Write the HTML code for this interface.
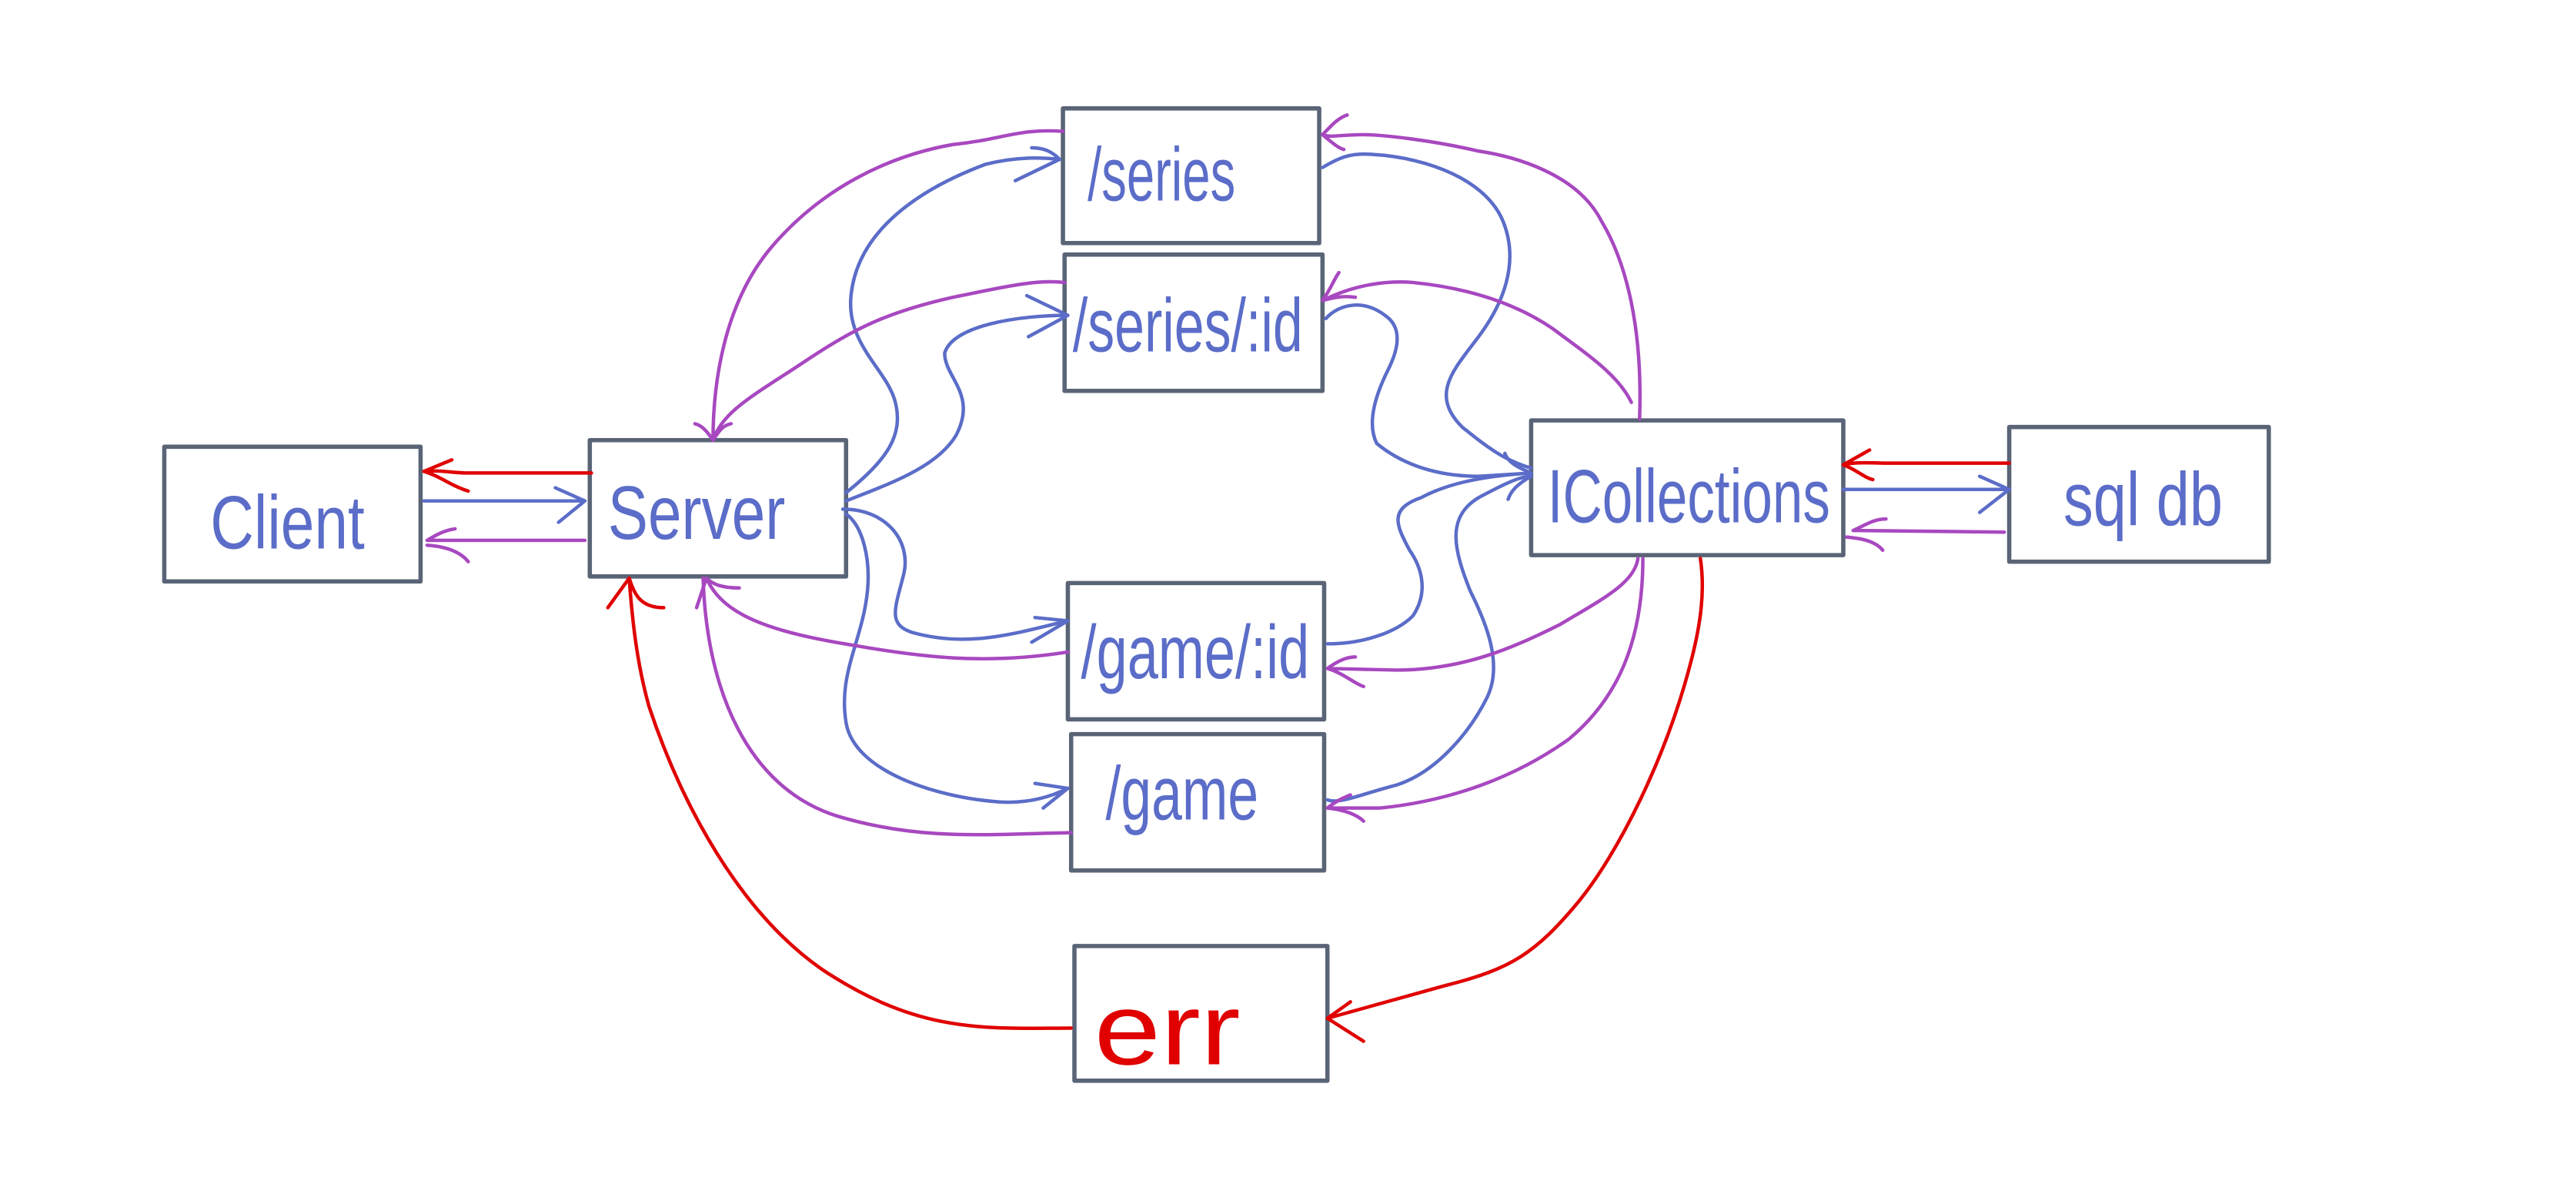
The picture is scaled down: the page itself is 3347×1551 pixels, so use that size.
<!DOCTYPE html>
<html><head><meta charset="utf-8"><style>
html,body{margin:0;padding:0;background:#fff;}
svg{display:block;}
text{font-family:"Liberation Sans",sans-serif;}
</style></head><body>
<svg width="3347" height="1551" viewBox="0 0 1568 727" preserveAspectRatio="none" xmlns="http://www.w3.org/2000/svg">
<g fill="#fff" stroke="#5a6477" stroke-width="2.6" stroke-linejoin="round">
<rect x="100" y="272" width="156" height="82"/>
<rect x="359" y="268" width="156" height="83"/>
<rect x="647" y="66" width="156" height="82"/>
<rect x="648" y="155" width="157" height="83"/>
<rect x="650" y="355" width="156" height="83"/>
<rect x="652" y="447" width="154" height="83"/>
<rect x="654" y="576" width="154" height="82"/>
<rect x="932" y="256" width="190" height="82"/>
<rect x="1223" y="260" width="158" height="82"/>
</g>
<g font-size="46" fill="#5b6dc8">
<text x="128" y="334" textLength="94" lengthAdjust="spacingAndGlyphs">Client</text>
<text x="370" y="328" textLength="108" lengthAdjust="spacingAndGlyphs">Server</text>
<text x="662" y="122" textLength="90" lengthAdjust="spacingAndGlyphs">/series</text>
<text x="653" y="214" textLength="140" lengthAdjust="spacingAndGlyphs">/series/:id</text>
<text x="658" y="413" textLength="139" lengthAdjust="spacingAndGlyphs">/game/:id</text>
<text x="673" y="499" textLength="93" lengthAdjust="spacingAndGlyphs">/game</text>
<text x="942" y="318" textLength="172" lengthAdjust="spacingAndGlyphs">ICollections</text>
<text x="1256" y="320" textLength="97" lengthAdjust="spacingAndGlyphs">sql db</text>
<text x="666" y="648" font-size="62" fill="#e00000" textLength="89" lengthAdjust="spacingAndGlyphs">err</text>
</g>
<g fill="none" stroke-width="2.1" stroke-linecap="round" stroke-linejoin="round">
<g stroke="#e00000">
<path d="M360,288 L285,288 C275,288 268,286 258,287 M258,287 L275,280 M258,287 C268,290 275,296 285,299"/>
<path d="M652,626 C600,626 560,630 500,590 C450,555 415,490 395,430 C388,405 385,380 383,352 M383,352 L370,370 M383,352 C386,362 390,370 404,370"/>
<path d="M1035,340 C1038,360 1035,380 1030,400 C1015,460 985,520 960,550 C935,580 920,590 880,600 L808,620 M808,620 L822,610 M808,620 L830,634"/>
<path d="M1223,282 L1150,282 C1140,282 1130,281 1122,283 M1122,283 L1138,274 M1122,283 C1130,286 1135,291 1140,292"/>
</g>
<g stroke="#5b6dc8">
<path d="M258,305 L356,305 M356,305 L338,297 M356,305 L340,318"/>
<path d="M1122,298 L1223,298 M1223,298 L1205,290 M1223,298 L1205,312"/>
<path d="M515,300 C540,280 550,265 545,245 C540,225 515,210 518,180 C522,140 560,115 600,100 C620,95 635,96 645,97 M645,97 C640,92 635,90 628,90 M645,97 L618,110"/>
<path d="M515,305 C540,295 570,285 582,265 C595,240 575,230 575,215 C580,198 620,192 650,192 M650,192 L625,180 M650,192 L626,205"/>
<path d="M513,310 C540,310 555,330 550,350 C545,370 540,380 555,385 C590,395 620,385 650,378 M650,378 L630,376 M650,378 L628,391"/>
<path d="M515,313 C525,320 530,340 528,360 C525,390 510,410 515,440 C520,470 570,485 605,488 C625,490 640,485 650,480 M650,480 L630,477 M650,480 L635,492"/>
<path d="M805,102 C815,96 822,93 835,94 C870,96 905,110 915,135 C925,160 915,185 900,205 C885,225 870,240 890,260 C905,272 915,280 932,285"/>
<path d="M807,194 C815,185 830,182 843,192 C855,200 850,215 845,225 C835,245 833,260 838,270 C850,280 870,290 900,290 L932,288 M932,288 C925,285 918,282 916,276"/>
<path d="M808,392 C830,392 850,385 860,375 C870,360 865,345 858,335 C850,320 845,310 865,303 C880,295 900,290 932,288"/>
<path d="M808,487 C815,490 830,483 850,478 C875,470 895,445 905,425 C915,405 905,380 895,360 C885,335 880,315 900,303 C915,295 925,290 932,290 M932,290 C925,294 920,298 918,304"/>
</g>
<g stroke="#a848c0">
<path d="M356,329 L260,329 M260,329 C265,326 270,323 277,322 M260,332 C275,333 282,338 285,342"/>
<path d="M1220,324 L1128,323 M1128,323 C1135,320 1140,316 1148,316 M1124,327 C1135,328 1142,330 1146,335"/>
<path d="M647,80 C620,78 610,85 580,88 C540,95 500,115 470,150 C440,185 434,235 434,268"/>
<path d="M648,172 C630,170 610,175 580,181 C540,190 520,200 490,220 C460,240 440,250 434,268 M434,268 C430,262 427,259 423,258 M434,268 C438,262 440,259 445,258"/>
<path d="M650,397 C600,405 560,400 520,393 C470,385 440,375 430,352 M430,352 L424,370 M430,352 C434,356 440,358 450,358"/>
<path d="M652,507 C600,508 560,512 510,497 C455,480 430,420 428,352"/>
<path d="M998,255 C1000,200 990,160 975,135 C960,105 920,95 900,92 C870,85 840,82 830,82 C815,82 810,84 805,82 M805,82 C810,77 814,72 820,70 M805,82 C810,86 814,90 818,91"/>
<path d="M993,245 C985,228 965,215 945,200 C920,183 890,175 860,172 C835,170 815,178 805,183 M805,183 C810,176 812,170 815,166 M805,183 C812,181 818,180 825,181"/>
<path d="M997,340 C995,355 975,365 950,380 C920,395 890,408 850,408 L808,407 M808,407 C815,402 820,400 825,400 M808,407 C818,410 824,416 830,418"/>
<path d="M1000,340 C1000,390 985,425 955,450 C920,475 880,488 840,492 L808,492 M808,492 C813,488 817,486 822,484 M808,492 C818,493 826,496 830,500"/>
</g>
</g>
</svg>
</body></html>
